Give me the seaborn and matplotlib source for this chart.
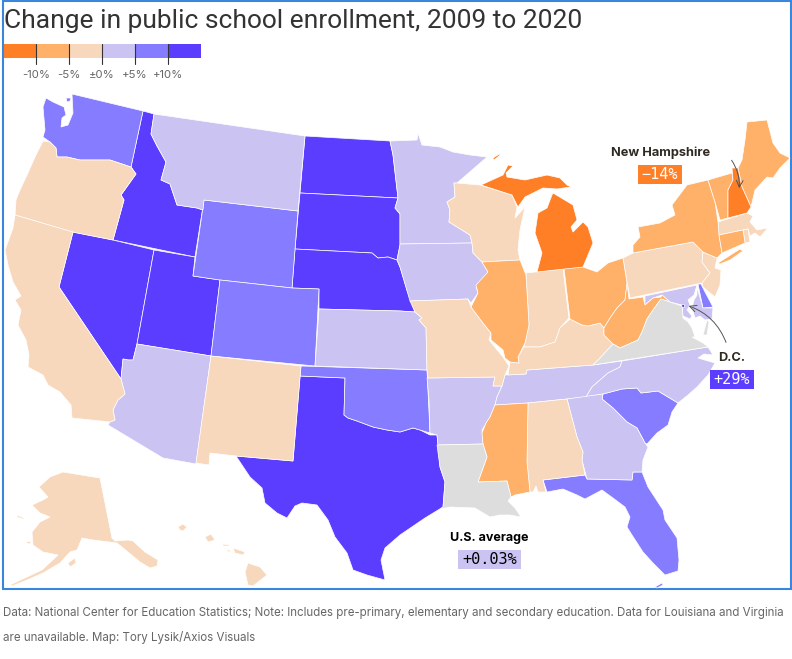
import numpy as np
import pandas as pd
import matplotlib
matplotlib.use("Agg")
import matplotlib.pyplot as plt
from matplotlib.colors import ListedColormap
from matplotlib.patches import Rectangle
import seaborn as sns

# Datos leidos del mapa (cambio estimado dentro de cada tramo de color)
deep_states = ["ID", "NV", "UT", "ND", "SD", "NE", "TX"]
deep_values = [12, 13, 12, 12, 12, 11, 12]
mid_states = ["WA", "WY", "CO", "OK", "SC", "FL", "DE"]
mid_values = [7, 6, 8, 7, 7, 7, 7]
lav_states = ["MT", "MN", "IA", "KS", "AR", "AZ", "TN", "NC", "GA", "MD"]
lav_values = [3, 3, 3, 2, 1, 2, 2, 2, 3, 1]
peach_states = ["OR", "CA", "AK", "HI", "NM", "WI", "MO", "IN", "KY", "AL", "PA", "NJ", "MA", "RI"]
peach_values = [-1, -2, -3, -3, -3, -4, -2, -1, -2, -2, -4, -2, -4, -4]
light_states = ["IL", "OH", "WV", "MS", "NY", "VT", "ME", "CT"]
light_values = [-8, -7, -9, -7, -6, -8, -8, -7]
dark_states = ["MI", "NH"]
dark_values = [-13, -14]
missing_states = ["LA", "VA"]
dc_value = 29

legend_ticks = ["-10%", "-5%", "±0%", "+5%", "+10%"]
bin_edges = [-100, -10, -5, 0, 5, 10, 100]
palette = ["#FF7F27", "#FFB069", "#F8D8BC", "#CBC3F2", "#857CFF", "#5B3DFF"]
no_data = "#DDDDDD"

# Contornos de los estados en pixeles de la imagen
outlines = {
    "WA": [[(72,94),(143,111),(131,167),(110,160),(80,160),(67,157),(57,157),(56,148),(50,142),(43,137),(45,130),(43,107),(46,98),(53,102),(64,107),(66,115),(62,118),(61,127),(68,125),(73,113)],
           [(66,98),(71,98),(70,101),(67,102)]],
    "OR": [[(15,215),(16,200),(20,190),(28,173),(35,157),(43,141),(50,142),(56,148),(57,157),(67,157),(80,160),(110,160),(131,167),(136,174),(121,195),(124,200),(113,240),(72,232)]],
    "ID": [[(143,111),(154,114),(151,134),(157,146),(166,162),(161,180),(170,184),(177,205),(197,208),(203,210),(204,200),(195,257),(113,240),(124,200),(121,195),(136,174),(131,167)]],
    "MT": [[(154,114),(305,136),(298,211),(204,200),(203,210),(197,208),(177,205),(170,184),(161,180),(166,162),(157,146),(151,134)]],
    "ND": [[(305,136),(390,141),(393,155),(398,198),(300,193)]],
    "SD": [[(300,193),(398,198),(395,208),(400,214),(400,245),(397,260),(388,257),(378,258),(372,253),(295,249)]],
    "NE": [[(295,249),(372,253),(378,258),(388,257),(397,260),(400,267),(407,290),(415,312),(400,311),(319,309),(319,289),(292,288)]],
    "WY": [[(204,200),(298,211),(292,288),(220,280),(193,276)]],
    "UT": [[(154,250),(195,257),(193,276),(220,280),(211,356),(137,344)]],
    "CO": [[(220,280),(292,288),(319,289),(315,366),(211,356)]],
    "NV": [[(73,232),(113,240),(154,250),(137,344),(133,360),(128,360),(123,359),(121,379),(59,287)]],
    "CA": [[(15,215),(73,232),(59,287),(121,379),(125,394),(118,400),(113,410),(115,420),(110,422),(72,418),(71,405),(60,392),(48,385),(43,375),(28,367),(29,355),(26,340),(18,325),(21,310),(15,300),(21,296),(13,282),(8,265),(5,250),(13,228)]],
    "AZ": [[(137,344),(211,356),(196,464),(163,458),(108,425),(110,422),(115,420),(113,410),(118,400),(125,394),(121,379),(123,359),(128,360),(133,360)]],
    "NM": [[(211,356),(301,366),(293,461),(236,456),(210,453),(209,465),(196,463)]],
    "TX": [[(300,376),(345,378),(344,415),(348,418),(357,421),(373,427),(387,430),(400,432),(413,428),(420,430),(430,435),(437,435),(438,445),(440,467),(445,482),(443,507),(425,518),(400,535),(385,548),(381,560),(385,580),(367,575),(353,570),(347,553),(335,537),(328,520),(317,505),(302,503),(295,506),(287,518),(277,513),(265,503),(262,488),(250,477),(236,456),(293,461)]],
    "OK": [[(301,366),(427,370),(430,433),(420,430),(413,428),(400,432),(387,430),(373,427),(357,421),(348,418),(344,415),(345,378),(300,376)]],
    "KS": [[(319,309),(400,311),(415,312),(422,318),(419,320),(426,328),(427,370),(315,366)]],
    "MO": [[(410,301),(468,299),(471,307),(483,323),(491,333),(489,340),(503,357),(509,366),(505,375),(502,386),(493,386),(495,377),(428,378),(427,370),(426,328),(419,320),(422,318),(415,312)]],
    "IA": [[(400,244),(472,243),(473,253),(482,262),(488,272),(485,282),(476,287),(478,293),(471,303),(468,299),(410,301),(400,267),(397,260),(400,245)]],
    "MN": [[(390,141),(417,140),(418,133),(422,145),(440,147),(453,152),(470,155),(487,157),(457,183),(454,183),(455,197),(447,202),(450,210),(449,222),(470,235),(472,243),(400,244),(400,214),(395,208),(398,198),(393,155)]],
    "WI": [[(457,183),(480,185),(512,195),(517,207),(515,218),(525,207),(520,230),(518,250),(520,260),(482,262),(473,253),(472,243),(470,235),(449,222),(450,210),(447,202),(455,197),(454,183)]],
    "IL": [[(482,262),(520,260),(526,275),(529,325),(525,343),(518,357),(519,363),(510,362),(505,358),(503,350),(491,340),(491,333),(483,323),(471,307),(478,293),(476,285),(488,272)]],
    "IN": [[(526,273),(563,269),(569,318),(560,328),(555,342),(540,347),(524,347),(529,325)]],
    "MI": [[(553,193),(573,205),(577,220),(571,227),(573,232),(583,222),(588,227),(593,243),(588,255),(583,267),(537,272),(542,253),(535,233),(538,213),(547,208),(552,195)],
           [(481,185),(503,175),(508,165),(513,166),(506,173),(507,177),(525,180),(547,175),(560,178),(567,185),(571,187),(557,189),(543,188),(525,197),(518,207),(512,195)],
           [(493,158),(501,153),(499,156),(494,160)]],
    "OH": [[(564,268),(583,267),(597,272),(608,263),(623,258),(627,283),(625,300),(617,308),(610,318),(604,328),(600,323),(588,326),(582,325),(570,319)]],
    "KY": [[(570,319),(582,325),(588,326),(600,323),(604,328),(604,335),(613,344),(600,358),(593,365),(527,370),(526,374),(508,375),(510,362),(519,363),(518,357),(524,347),(540,347),(555,342),(560,328)]],
    "WV": [[(627,283),(629,299),(643,297),(645,305),(653,298),(661,297),(662,295),(670,302),(661,299),(653,310),(647,319),(642,332),(638,340),(620,348),(613,344),(604,335),(604,328),(610,318),(617,308),(625,300)]],
    "VA": [[(613,344),(620,348),(638,340),(642,332),(647,319),(653,310),(661,299),(670,302),(682,306),(683,318),(688,322),(692,328),(695,337),(692,337),(703,343),(708,347),(593,365),(600,358)],
           [(707,320),(703,335),(707,335),(709,322)]],
    "PA": [[(623,258),(633,253),(693,242),(703,252),(702,262),(710,273),(702,283),(630,298),(627,282)]],
    "NY": [[(633,253),(633,245),(640,237),(638,227),(660,223),(675,215),(672,205),(687,185),(708,180),(715,202),(718,222),(719,235),(722,253),(717,258),(710,255),(703,252),(693,242)],
           [(718,263),(740,249),(743,251),(730,260),(720,264)]],
    "VT": [[(708,180),(732,173),(733,180),(728,190),(728,218),(720,220),(715,202)]],
    "NH": [[(732,168),(738,168),(742,187),(751,207),(747,213),(728,218),(728,190),(733,180)]],
    "ME": [[(738,168),(742,160),(745,140),(747,122),(767,120),(773,143),(780,153),(790,158),(780,168),(773,178),(767,177),(755,190),(751,207),(742,187)]],
    "MA": [[(718,222),(747,213),(753,216),(750,222),(757,230),(768,228),(760,237),(755,233),(750,236),(748,229),(743,230),(719,235)]],
    "RI": [[(743,230),(748,229),(750,242),(745,243)]],
    "CT": [[(719,235),(743,230),(745,243),(722,253)]],
    "NJ": [[(703,252),(717,258),(715,268),(721,270),(720,285),(715,297),(703,287),(702,283),(710,273),(702,262)]],
    "DE": [[(698,284),(701,284),(705,292),(713,307),(703,308)]],
    "MD": [[(645,296),(697,285),(694,295),(688,300),(690,305),(687,310),(692,316),(690,319),(683,316),(682,305),(670,302),(662,295),(653,298),(645,305)],
           [(697,287),(703,308),(713,308),(712,319),(705,320),(700,316),(695,318),(692,308),(694,300),(697,295)]],
    "DC": [[(681,304),(684,304),(684,307),(681,307)]],
    "NC": [[(708,347),(713,355),(704,354),(698,358),(708,361),(715,363),(708,375),(697,387),(688,395),(678,403),(658,391),(641,393),(637,388),(622,389),(603,394),(586,397),(592,387),(608,373),(620,367),(622,361)]],
    "TN": [[(622,361),(593,365),(527,370),(526,374),(505,375),(502,386),(497,397),(495,405),(528,403),(567,399),(586,397),(592,387),(608,373),(620,367)]],
    "AR": [[(427,378),(495,377),(493,386),(502,386),(497,397),(495,405),(490,417),(482,430),(483,444),(438,445),(437,435),(430,433),(429,400)]],
    "LA": [[(437,445),(483,444),(487,457),(478,482),(507,481),(511,497),(508,501),(515,508),(521,517),(510,515),(500,515),(490,517),(475,508),(450,507),(441,509),(443,507),(445,482),(440,467)]],
    "MS": [[(495,405),(528,403),(527,462),(530,492),(515,495),(511,497),(507,481),(478,482),(487,457),(483,444),(482,433),(486,423),(490,417)]],
    "AL": [[(528,403),(567,399),(577,437),(583,452),(582,460),(585,475),(543,480),(546,492),(538,492),(536,486),(533,492),(530,492),(527,462)]],
    "GA": [[(567,399),(603,394),(602,399),(613,408),(627,422),(637,428),(645,443),(648,447),(643,460),(642,472),(633,472),(632,480),(587,479),(582,460),(583,452),(577,437)]],
    "SC": [[(603,394),(622,389),(637,388),(641,393),(658,391),(678,403),(672,412),(668,425),(657,433),(647,444),(645,443),(637,428),(627,422),(613,408),(602,399)]],
    "FL": [[(543,480),(585,475),(587,479),(632,480),(633,472),(642,472),(648,487),(663,510),(665,520),(677,538),(679,560),(678,571),(665,575),(653,563),(643,552),(632,535),(627,527),(630,517),(625,507),(613,498),(602,490),(585,499),(577,495),(563,489),(547,492)],
           [(655,587),(662,583),(663,585),(657,588)]],
    "AK": [[(63,472),(100,478),(112,538),(115,541),(128,540),(133,541),(145,552),(158,560),(157,566),(150,568),(140,562),(128,552),(117,543),(93,540),(82,538),(77,550),(70,552),(60,563),(43,573),(27,580),(12,586),(10,585),(27,577),(42,570),(58,555),(43,552),(33,545),(32,532),(40,522),(50,517),(40,513),(32,505),(43,500),(48,497),(39,487),(50,477)],
           [(68,563),(75,558),(76,563),(70,567)],
           [(17,515),(26,519),(23,519),(17,517)],
           [(26,541),(31,542),(30,544),(27,543)]],
    "HI": [[(248,563),(260,567),(267,575),(253,586),(248,585),(245,572)],
           [(233,548),(245,552),(243,555),(235,553)],
           [(223,544),(230,545),(229,546),(223,546)],
           [(227,549),(231,551),(228,552)],
           [(205,537),(211,534),(215,540),(208,542)],
           [(178,527),(183,524),(187,527),(183,531),(180,530)]],
}

states = deep_states + mid_states + lav_states + peach_states + light_states + dark_states + ["DC"] + missing_states
values = deep_values + mid_values + lav_values + peach_values + light_values + dark_values + [dc_value] + [np.nan] * len(missing_states)
df = pd.DataFrame({"state": states, "change": values})
df["bin"] = pd.cut(df["change"], bins=bin_edges, labels=False)

sns.set_theme(style="white")
plt.rcParams["font.family"] = ["Inter", "DejaVu Sans"]

fig = plt.figure(figsize=(7.92, 6.59), dpi=100)
ax = fig.add_axes([0, 0, 1, 1])
ax.set_xlim(0, 792)
ax.set_ylim(659, 0)
ax.axis("off")

# Marco azul
ax.add_patch(Rectangle((3, 1), 787.5, 588, fill=False, edgecolor="#3A86DC", linewidth=1.5))

for _, row in df.iterrows():
    color = no_data if pd.isna(row["bin"]) else palette[int(row["bin"])]
    for part in outlines[row["state"]]:
        xy = np.array(part)
        ax.fill(xy[:, 0], xy[:, 1], facecolor=color, edgecolor="white", linewidth=0.5, zorder=2)

# Leyenda como una franja de seaborn
leg = fig.add_axes([3.5 / 792, 1 - 57.5 / 659, 197.5 / 792, 13.5 / 659])
sns.heatmap([list(range(6))], ax=leg, cmap=ListedColormap(palette), cbar=False,
            xticklabels=False, yticklabels=False)
for i, label in enumerate(legend_ticks):
    x = 3.5 + 197.5 * (i + 1) / 6
    ax.plot([x, x], [44, 64], color="#333333", linewidth=0.8, zorder=5)
    ax.text(x, 75, label, ha="center", va="center", fontsize=8.2, color="#666666")
leg.set_zorder(1)
ax.set_zorder(2)
ax.patch.set_visible(False)

ax.text(4, 28, "Change in public school enrollment, 2009 to 2020", ha="left", va="baseline",
        fontsize=19, family="Roboto", color="#333333")


def value_box(x0, x1, y0, y1, text, fill, ink):
    ax.add_patch(Rectangle((x0, y0), x1 - x0, y1 - y0, facecolor=fill, edgecolor="none", zorder=6))
    ax.text((x0 + x1) / 2, (y0 + y1) / 2, text, ha="center", va="center", fontsize=11,
            family="DejaVu Sans Mono", color=ink, zorder=7)


# Etiquetas
ax.text(660.5, 153, "New Hampshire", ha="center", va="center", fontsize=9.2, fontweight="bold", color="#2F2A22")
value_box(638, 682, 165, 184, "−14%", palette[0], "white")
ax.text(731.5, 358, "D.C.", ha="center", va="center", fontsize=9.2, fontweight="bold", color="#2F2A22")
value_box(710, 754, 370, 389, "+29%", palette[5], "white")
ax.text(489, 538, "U.S. average", ha="center", va="center", fontsize=9, fontweight="bold", color="black")
value_box(458, 521, 550, 569, "+0.03%", palette[3], "black")

ax.annotate("", xy=(739, 191), xytext=(730, 158), zorder=6,
            arrowprops=dict(arrowstyle="->", color="#555555", lw=0.7, connectionstyle="arc3,rad=-0.2"))
ax.annotate("", xy=(686, 305), xytext=(727, 345), zorder=6,
            arrowprops=dict(arrowstyle="->", color="#555555", lw=0.7, connectionstyle="arc3,rad=0.25"))

ax.text(3, 613, "Data: National Center for Education Statistics; Note: Includes pre-primary, elementary and secondary education. Data for Louisiana and Virginia",
        ha="left", va="center", fontsize=8.3, color="#666666")
ax.text(3, 637, "are unavailable. Map: Tory Lysik/Axios Visuals", ha="left", va="center", fontsize=8.3, color="#666666")

plt.savefig("out.png", dpi=100)
